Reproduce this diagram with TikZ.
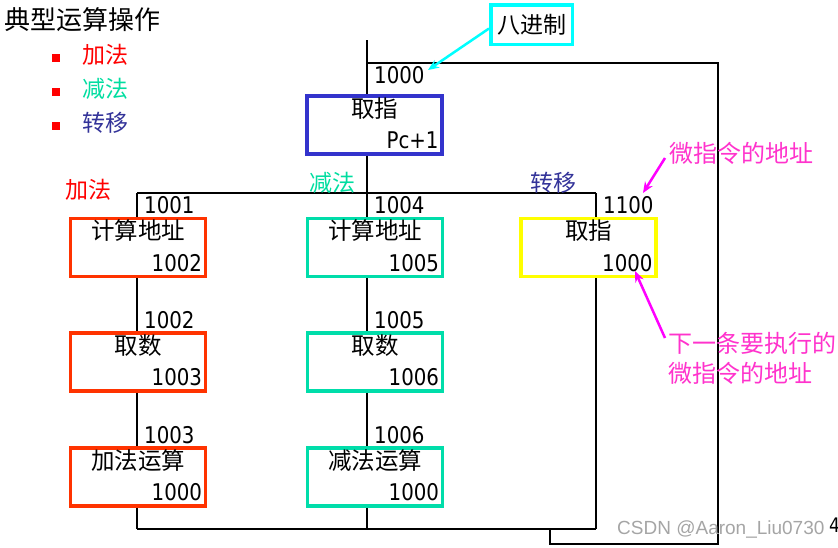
\documentclass[tikz,border=0pt]{standalone}
\usepackage{fontspec}
\setmainfont{DejaVu Sans}[FakeStretch=0.86]
\newfontfamily\cjk{Noto Sans CJK SC}
\newfontfamily\wmfont{Liberation Sans}
\usetikzlibrary{arrows.meta,calc}
\definecolor{redb}{RGB}{255,51,0}
\definecolor{greenb}{RGB}{0,221,170}
\definecolor{blueb}{RGB}{51,51,204}
\definecolor{yellowb}{RGB}{255,255,0}
\definecolor{cyanb}{RGB}{0,255,255}
\definecolor{magb}{RGB}{255,0,255}
\definecolor{magt}{RGB}{255,51,204}
\definecolor{legred}{RGB}{255,0,0}
\definecolor{leggreen}{RGB}{0,221,160}
\definecolor{legblue}{RGB}{51,51,153}
\definecolor{wmgray}{RGB}{165,165,165}
\newcommand\opbox[5]{%
  \node[box,draw=#3] (#1) at #2 {};
  \node[ttl] at ([yshift=-14pt]#1.north) {#4};
  \node[num,anchor=base east] at ([xshift=-5pt,yshift=7pt]#1.south east) {#5};
}
\begin{document}
\begin{tikzpicture}[x=1pt,y=-1pt,
  line/.style={line width=1.6pt, black},
  box/.style={draw, line width=3.5pt, minimum width=135pt, minimum height=58pt, inner sep=0pt, fill=white},
  ttl/.style={font=\cjk\fontsize{23.5}{23.5}\selectfont, inner sep=0pt},
  num/.style={font=\fontsize{23}{23}\selectfont, inner sep=0pt},
  lbl/.style={num, anchor=base west},
  cjklbl/.style={font=\cjk\fontsize{23}{23}\selectfont, inner sep=0pt, anchor=west},
  maglbl/.style={font=\cjk\fontsize{24}{24}\selectfont, inner sep=0pt, anchor=west, text=magt},
  sq/.style={fill=legred, minimum size=8pt, inner sep=0pt},
]
\useasboundingbox (0,0) rectangle (838,547);

% title and legend
\node[font=\cjk\fontsize{26}{26}\selectfont, inner sep=0pt, anchor=west] (title) at (4,20) {典型运算操作};
\node[sq] (s1) at (55.5,57.5) {};
\node[sq] (s2) at (55.5,91.5) {};
\node[sq] (s3) at (55.5,125.5) {};
\node[cjklbl, text=legred] (l1) at (82,55) {加法};
\node[cjklbl, text=leggreen] (l2) at (82,89) {减法};
\node[cjklbl, text=legblue] (l3) at (82,123) {转移};

% coordinates of the wiring
\coordinate (top) at (367,40);
\coordinate (j0) at (367,63);
\coordinate (rt) at (718,63);
\coordinate (rb) at (718,544);
\coordinate (lb) at (550,544);
\coordinate (le) at (550,529);
\coordinate (br) at (367,193);
\coordinate (bl) at (137,193);
\coordinate (bj) at (596,193);
\coordinate (bot1) at (137,529);
\coordinate (bot2) at (367,529);
\coordinate (bot3) at (596,529);

% boxes
\opbox{fetch}{(374.5,125)}{blueb}{取指}{Pc+1}
\opbox{a1}{(138,247.5)}{redb}{计算地址}{1002}
\opbox{a2}{(138,362)}{redb}{取数}{1003}
\opbox{a3}{(138,477)}{redb}{加法运算}{1000}
\opbox{s1b}{(375,247.5)}{greenb}{计算地址}{1005}
\opbox{s2b}{(375,362)}{greenb}{取数}{1006}
\opbox{s3b}{(375,477)}{greenb}{减法运算}{1000}
\opbox{j1}{(588.5,247.5)}{yellowb}{取指}{1000}

% connectors
\draw[line] (top) -- (top |- fetch.north);
\draw[line] (j0) -- (rt) -- (rb) -- (lb) -- (le);
\draw[line] (fetch.south -| top) -- (br);
\draw[line] (bl) -- (bj);
\draw[line] (bl) -- (bl |- a1.north);
\draw[line] (a1.south -| bl) -- (a2.north -| bl);
\draw[line] (a2.south -| bl) -- (a3.north -| bl);
\draw[line] (a3.south -| bl) -- (bot1);
\draw[line] (br) -- (br |- s1b.north);
\draw[line] (s1b.south -| br) -- (s2b.north -| br);
\draw[line] (s2b.south -| br) -- (s3b.north -| br);
\draw[line] (s3b.south -| br) -- (bot2);
\draw[line] (bj) -- (bj |- j1.north);
\draw[line] (j1.south -| bj) -- (bot3);
\draw[line] (bot1) -- (bot3);

% address labels
\node[lbl] (n1000) at (374,83) {1000};
\node[lbl] (n1001) at (144,213) {1001};
\node[lbl] (n1004) at (374,213) {1004};
\node[lbl] (n1100) at (603,213) {1100};
\node[lbl] (n1002) at (144,328) {1002};
\node[lbl] (n1005) at (374,328) {1005};
\node[lbl] (n1003) at (144,443) {1003};
\node[lbl] (n1006) at (374,443) {1006};

% branch labels
\node[cjklbl, text=legred] (ba) at (65,190) {加法};
\node[cjklbl, text=leggreen] (bs) at (309,183) {减法};
\node[cjklbl, text=legblue] (bt) at (530,183) {转移};

% octal callout
\node[draw=cyanb, line width=3.5pt, minimum width=81.5pt, minimum height=39.5pt, inner sep=0pt, font=\cjk\fontsize{23}{23}\selectfont] (oct) at (531.5,24.5) {八进制};
\coordinate (ctip) at (428,70);
\draw[cyanb, line width=2.5pt, -{Stealth[length=11pt,width=9pt]}] ([yshift=-4pt]oct.west) -- (ctip);

% magenta callouts
\node[maglbl] (m1) at (669,153) {微指令的地址};
\coordinate (mtip1) at (643,193);
\draw[magb, line width=2.5pt, -{Stealth[length=11pt,width=9pt]}] ([xshift=-4pt,yshift=-5pt]m1.west) -- (mtip1);
\node[maglbl] (m2) at (668,343) {下一条要执行的};
\node[maglbl] (m3) at (668,373) {微指令的地址};
\coordinate (mtip2) at (635,271);
\draw[magb, line width=2.5pt, -{Stealth[length=11pt,width=9pt]}] ([xshift=-3pt,yshift=5pt]m2.west) -- (mtip2);

% watermark
\node[font=\wmfont\fontsize{19}{19}\selectfont, text=wmgray, inner sep=0pt, anchor=base west] (wm) at (617,534) {CSDN @Aaron\_Liu0730};
\node[font=\fontsize{20}{20}\selectfont, inner sep=0pt, anchor=base west] (pg) at (829,532) {4};
\end{tikzpicture}
\end{document}
